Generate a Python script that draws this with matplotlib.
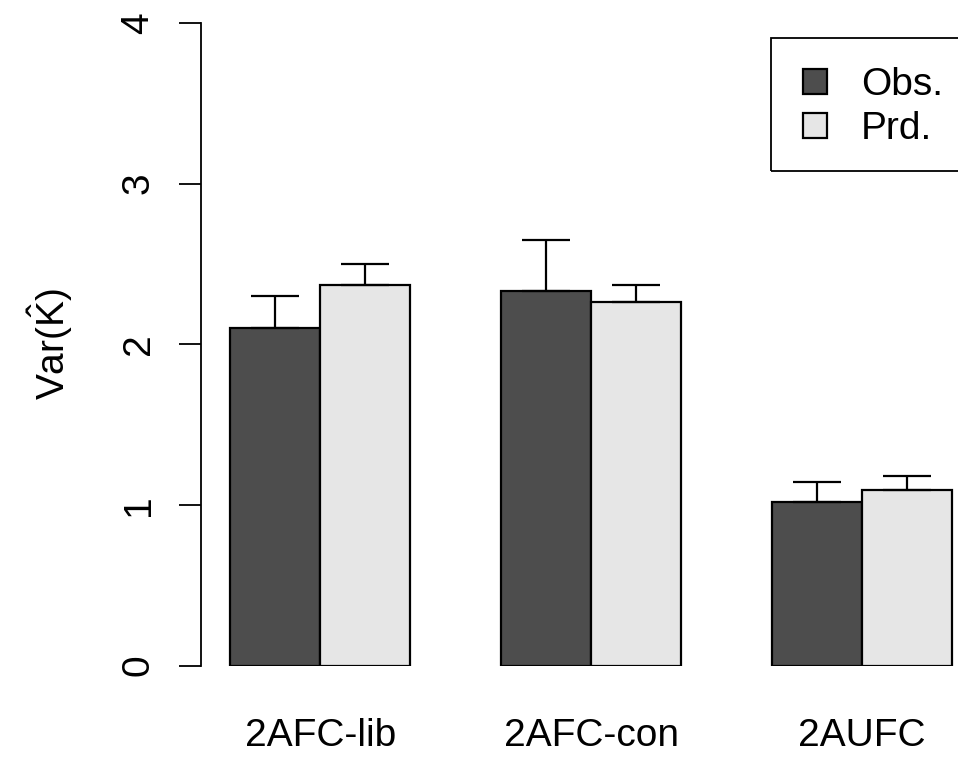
import matplotlib
matplotlib.use("Agg")
import matplotlib.pyplot as plt
from matplotlib.patches import Rectangle
import numpy as np

plt.rcParams["font.family"] = ["Liberation Sans", "DejaVu Sans"]
plt.rcParams["mathtext.fontset"] = "custom"
plt.rcParams["mathtext.rm"] = "Liberation Sans"

groups = ["2AFC-lib", "2AFC-con", "2AUFC"]
obs = [2.10, 2.33, 1.02]
obs_err = [0.20, 0.32, 0.12]
prd = [2.37, 2.26, 1.09]
prd_err = [0.13, 0.11, 0.09]
y_ticks = [0, 1, 2, 3, 4]

fig = plt.figure(figsize=(9.58, 7.62), dpi=100)
W, H = 958, 762
unit = 90.3
x_lo, x_hi = 0.68, 9.32
ax = fig.add_axes([201 / W, (H - 665.5) / H, (x_hi - x_lo) * unit / W, 642.5 / H])

# R-style beside barplot: space = c(0, 1)
obs_x = np.array([1.5, 4.5, 7.5])
prd_x = obs_x + 1
ax.bar(obs_x, obs, width=1, color="#4d4d4d", edgecolor="black", linewidth=1.6, label="Obs.", zorder=2)
ax.bar(prd_x, prd, width=1, color="#e6e6e6", edgecolor="black", linewidth=1.6, label="Prd.", zorder=2)
for xs, ys, es in [(obs_x, obs, obs_err), (prd_x, prd, prd_err)]:
    ax.errorbar(xs, ys, yerr=[np.zeros(len(es)), es], fmt="none", ecolor="black",
                elinewidth=1.6, capsize=17.5, capthick=1.6, zorder=3)

ax.set_xlim(x_lo, x_hi)
ax.set_ylim(0, 4)
ax.set_yticks(y_ticks)
ax.set_yticklabels([str(t) for t in y_ticks], rotation=90, va="center", fontsize=28)
ax.tick_params(axis="y", length=16, width=1.3, pad=16)
ax.set_xticks((obs_x + prd_x) / 2)
ax.set_xticklabels(groups, fontsize=28)
ax.tick_params(axis="x", length=0, pad=38)
for s in ["top", "right", "bottom"]:
    ax.spines[s].set_visible(False)
ax.spines["left"].set_linewidth(1.3)
ax.set_ylabel(r"Var($\hat{\mathrm{K}}$)", fontsize=28, labelpad=33)

# legend box drawn separately (R legend runs off the right edge)
fig.patches.append(Rectangle((771 / W, 1 - 171 / H), 220 / W, 133 / H, transform=fig.transFigure,
                             facecolor="none", edgecolor="black", linewidth=1.3))
ax.legend(loc="upper left", bbox_to_anchor=(803 / W, 1 - 67 / H), bbox_transform=fig.transFigure,
          fontsize=28, frameon=False, borderaxespad=0, borderpad=0,
          handlelength=0.62, handleheight=0.62, handletextpad=0.87, labelspacing=0.21)

fig.savefig("out.png", dpi=100)
